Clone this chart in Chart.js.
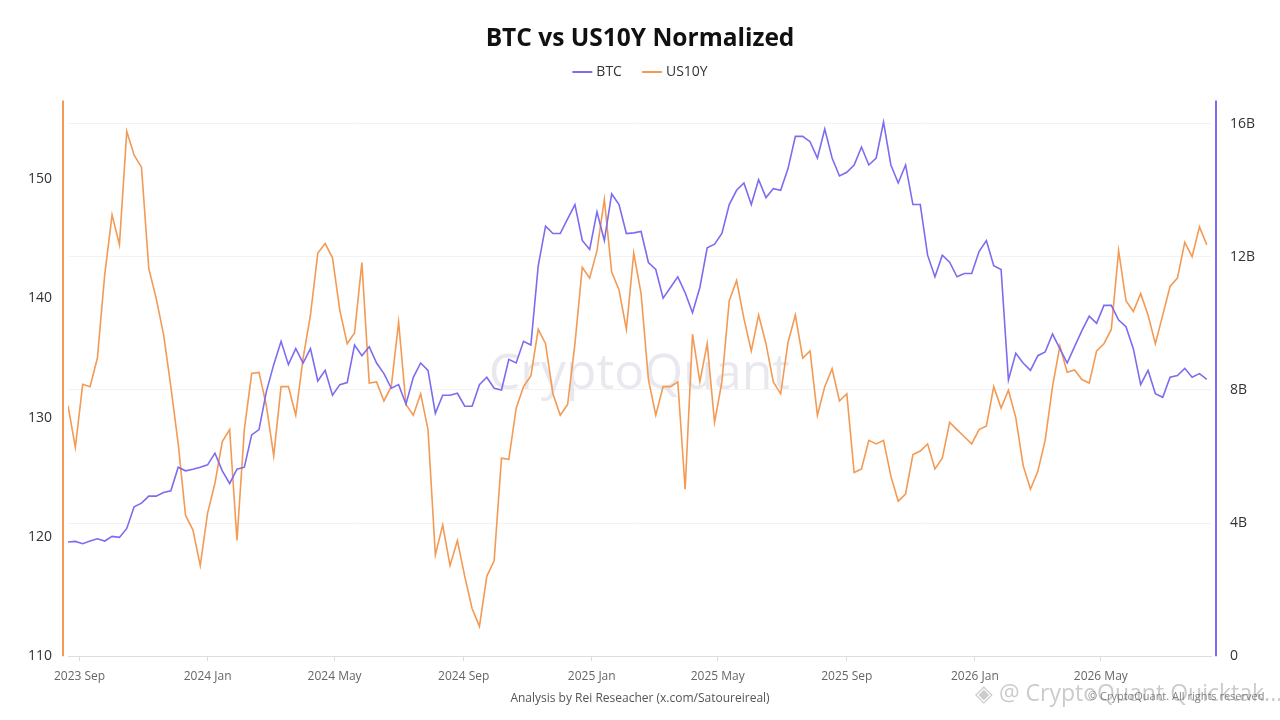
<!DOCTYPE html>
<html>
<head>
<meta charset="utf-8">
<title>BTC vs US10Y Normalized</title>
<script src="https://cdn.jsdelivr.net/npm/chart.js@4.4.1/dist/chart.umd.min.js"></script>
<style>
  html, body { margin: 0; padding: 0; background: #fff; }
  #wrap { position: relative; width: 1280px; height: 720px; }
  #quicktake {
    position: absolute; left: 975px; top: 676px;
    font-family: "Open Sans", sans-serif; font-size: 23px;
    color: rgba(140, 140, 140, 0.45); white-space: nowrap;
  }
  #rights {
    position: absolute; left: 1088px; top: 688px;
    font-family: "Open Sans", sans-serif; font-size: 11px;
    color: rgba(90, 90, 90, 0.75); white-space: nowrap;
  }
</style>
</head>
<body>
<div id="wrap">
  <canvas id="myChart" width="1280" height="720"></canvas>
  <div id="quicktake">◈ @ CryptoQuant Quicktak...</div>
  <div id="rights">© CryptoQuant. All rights reserved</div>
</div>
<script>
// Weekly samples, first one on 2023-08-21 (day -11 counted from 2023-09-01)
const firstDay = -11;
const stepDays = 7;
const lastDay = 1078;

// US10Y normalized (left axis)
const us10yValues = [
  131.0, 127.5, 132.8, 132.6, 135.0, 142.0, 147.0, 144.5, 154.0, 152.0,
  151.0, 142.5, 140.0, 137.0, 132.6, 127.8, 121.8, 120.6, 117.6, 122.0,
  124.5, 128.0, 129.0, 119.7, 129.0, 133.7, 133.8, 131.0, 126.8, 132.6,
  132.6, 130.2, 135.0, 138.6, 143.8, 144.6, 143.4, 139.0, 136.2, 137.1,
  143.0, 132.9, 133.0, 131.4, 132.6, 138.0, 131.1, 130.2, 132.0, 129.0,
  118.5, 121.0, 117.6, 119.7, 116.7, 114.0, 112.5, 116.7, 118.0, 126.6,
  126.5, 130.8, 132.6, 133.5, 137.4, 136.2, 132.0, 130.2, 131.1, 136.2,
  142.6, 141.7, 144.0, 148.3, 142.2, 140.7, 137.4, 143.8, 140.4, 133.2,
  130.2, 132.6, 132.6, 133.0, 124.0, 137.0, 133.0, 136.2, 129.6, 133.0,
  139.8, 141.5, 138.3, 135.6, 138.6, 136.2, 133.0, 132.0, 136.3, 138.6,
  135.0, 135.6, 130.2, 132.6, 134.1, 131.4, 132.0, 125.4, 125.7, 128.1,
  127.8, 128.1, 125.1, 123.0, 123.6, 126.9, 127.2, 127.8, 125.7, 126.6,
  129.6, 129.0, 128.4, 127.8, 129.0, 129.3, 132.6, 130.8, 132.3, 130.0,
  126.0, 124.0, 125.5, 128.1, 132.6, 136.0, 133.8, 134.0, 133.2, 132.9,
  135.6, 136.2, 137.4, 144.0, 139.8, 138.9, 140.4, 138.6, 136.2, 138.6,
  141.0, 141.7, 144.7, 143.5, 146.0, 144.5
];

// BTC normalized, in billions (right axis)
const btcValues = [
  3.43, 3.45, 3.38, 3.46, 3.53, 3.46, 3.60, 3.57, 3.84, 4.49,
  4.60, 4.81, 4.81, 4.92, 4.97, 5.68, 5.57, 5.62, 5.68, 5.75,
  6.10, 5.57, 5.19, 5.62, 5.68, 6.65, 6.81, 7.95, 8.76, 9.46,
  8.76, 9.24, 8.81, 9.24, 8.27, 8.59, 7.84, 8.16, 8.22, 9.35,
  9.03, 9.30, 8.81, 8.49, 8.05, 8.16, 7.57, 8.38, 8.81, 8.59,
  7.30, 7.84, 7.84, 7.90, 7.51, 7.51, 8.16, 8.38, 8.05, 8.00,
  8.92, 8.81, 9.46, 9.35, 11.73, 12.92, 12.70, 12.70, 13.14, 13.57,
  12.49, 12.22, 13.35, 12.49, 13.89, 13.57, 12.70, 12.72, 12.76, 11.83,
  11.62, 10.76, 11.08, 11.40, 10.92, 10.32, 11.08, 12.27, 12.38, 12.70,
  13.57, 14.00, 14.22, 13.57, 14.32, 13.78, 14.05, 14.00, 14.65, 15.62,
  15.62, 15.46, 14.97, 15.84, 14.97, 14.43, 14.54, 14.76, 15.30, 14.76,
  14.97, 16.05, 14.76, 14.22, 14.76, 13.57, 13.57, 12.05, 11.40, 12.05,
  11.84, 11.40, 11.50, 11.50, 12.16, 12.49, 11.73, 11.62, 8.30, 9.10,
  8.81, 8.59, 9.03, 9.14, 9.68, 9.24, 8.81, 9.30, 9.78, 10.22,
  10.00, 10.54, 10.54, 10.10, 9.90, 9.24, 8.16, 8.59, 7.89, 7.78,
  8.38, 8.43, 8.65, 8.38, 8.49, 8.32
];

// X tick labels and their day offsets from 2023-09-01
const tickLabels = ['2023 Sep', '2024 Jan', '2024 May', '2024 Sep', '2025 Jan', '2025 May', '2025 Sep', '2026 Jan', '2026 May'];
const tickDays = [0, 122, 243, 366, 488, 608, 731, 853, 973];

const btcColor = '#7b6cf0';
const usColor = '#f39a55';

function toPoints(values) {
    return values.map((v, i) => ({ x: firstDay + i * stepDays, y: v }));
}

// Watermark, offset axis lines and the legend row
const decorPlugin = {
    id: 'decor',
    beforeDatasetsDraw(chart) {
        const c = chart.ctx;
        const a = chart.chartArea;
        c.save();
        c.font = '500 50px "Open Sans", sans-serif';
        c.fillStyle = 'rgba(205, 205, 218, 0.45)';
        c.textAlign = 'center';
        c.textBaseline = 'middle';
        c.fillText('CryptoQuant', (a.left + a.right) / 2, 375);
        c.restore();
    },
    afterDraw(chart) {
        const c = chart.ctx;
        const a = chart.chartArea;
        c.save();
        c.lineWidth = 2;
        c.strokeStyle = usColor;
        c.beginPath();
        c.moveTo(a.left - 5, a.top);
        c.lineTo(a.left - 5, a.bottom);
        c.stroke();
        c.strokeStyle = btcColor;
        c.beginPath();
        c.moveTo(a.right + 5, a.top);
        c.lineTo(a.right + 5, a.bottom);
        c.stroke();

        // legend
        c.font = '14px "Open Sans", sans-serif';
        c.textBaseline = 'middle';
        c.textAlign = 'left';
        const items = chart.data.datasets.map(ds => ({ text: ds.label, color: ds.borderColor }));
        const lineLen = 20, gap = 4, between = 20;
        let total = 0;
        items.forEach((it, k) => {
            it.w = c.measureText(it.text).width;
            total += lineLen + gap + it.w + (k ? between : 0);
        });
        let x = chart.width / 2 - total / 2;
        const y = 72;
        items.forEach((it, k) => {
            if (k) x += between;
            c.strokeStyle = it.color;
            c.lineWidth = 2;
            c.beginPath();
            c.moveTo(x, y);
            c.lineTo(x + lineLen, y);
            c.stroke();
            x += lineLen + gap;
            c.fillStyle = '#333';
            c.fillText(it.text, x, y);
            x += it.w;
        });
        c.restore();
    }
};

let ctx = document.getElementById('myChart').getContext('2d');
let myChart = new Chart(ctx, {
    type: 'line',
    data: {
        datasets: [
            {
                label: 'BTC',
                data: toPoints(btcValues),
                borderColor: btcColor,
                backgroundColor: btcColor,
                borderWidth: 1.6,
                pointRadius: 0,
                tension: 0,
                yAxisID: 'y1'
            },
            {
                label: 'US10Y',
                data: toPoints(us10yValues),
                borderColor: usColor,
                backgroundColor: usColor,
                borderWidth: 1.6,
                pointRadius: 0,
                tension: 0,
                yAxisID: 'y'
            }
        ]
    },
    options: {
        responsive: false,
        animation: false,
        layout: {
            padding: { top: 24, left: 0, right: 0, bottom: 10 }
        },
        plugins: {
            title: {
                display: true,
                text: 'BTC vs US10Y Normalized',
                color: '#111',
                font: { family: '"Open Sans", sans-serif', size: 24.5, weight: 'bold' },
                padding: { top: 0, bottom: 47 }
            },
            subtitle: {
                display: true,
                position: 'bottom',
                text: 'Analysis by Rei Reseacher (x.com/Satoureireal)',
                color: '#555',
                font: { family: '"Open Sans", sans-serif', size: 12 },
                padding: { top: 0, bottom: 4 }
            },
            legend: { display: false },
            tooltip: { enabled: false }
        },
        scales: {
            x: {
                type: 'linear',
                min: firstDay,
                max: lastDay,
                afterBuildTicks: function(scale) {
                    scale.ticks = tickDays.map(d => ({ value: d }));
                },
                ticks: {
                    color: '#666',
                    font: { family: '"Open Sans", sans-serif', size: 12 },
                    maxRotation: 0,
                    autoSkip: false,
                    padding: 8,
                    callback: function(value) {
                        const k = tickDays.indexOf(value);
                        return k >= 0 ? tickLabels[k] : '';
                    }
                },
                grid: {
                    display: true,
                    drawOnChartArea: false,
                    drawTicks: true,
                    tickLength: 5,
                    color: '#dcdce4'
                },
                border: { color: '#dcdce4', width: 1 }
            },
            y: {
                position: 'left',
                min: 110,
                max: 156.6,
                afterFit: function(scale) { scale.width = 68; },
                ticks: {
                    stepSize: 10,
                    includeBounds: false,
                    color: '#333',
                    padding: 16,
                    font: { family: '"Open Sans", sans-serif', size: 14 }
                },
                grid: { display: false, drawTicks: false },
                border: { display: false }
            },
            y1: {
                position: 'right',
                min: 0,
                max: 16.7,
                afterFit: function(scale) { scale.width = 69; },
                ticks: {
                    stepSize: 4,
                    includeBounds: false,
                    color: '#333',
                    padding: 19,
                    font: { family: '"Open Sans", sans-serif', size: 14 },
                    callback: function(value) {
                        return value === 0 ? '0' : value + 'B';
                    }
                },
                grid: {
                    color: '#f3f3f5',
                    drawTicks: false
                },
                border: { display: false }
            }
        }
    },
    plugins: [decorPlugin]
});
</script>
</body>
</html>
